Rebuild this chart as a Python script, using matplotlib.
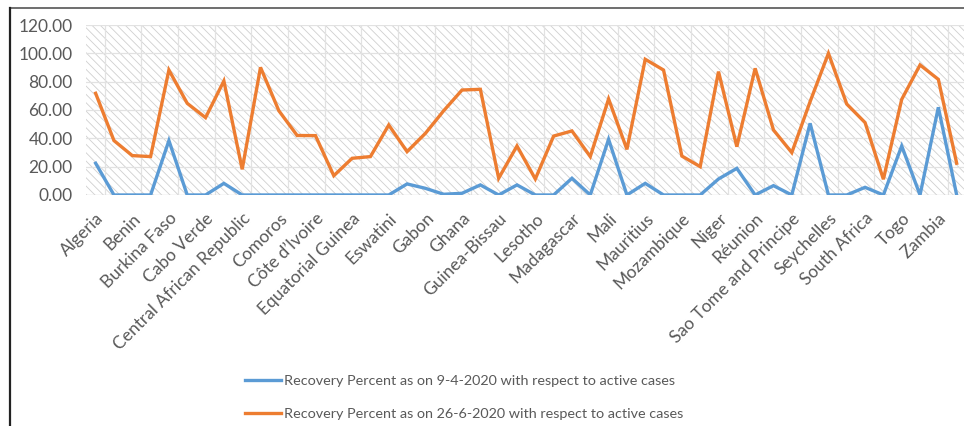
import matplotlib.pyplot as plt
from matplotlib.lines import Line2D
from matplotlib.patches import Rectangle
import numpy as np

countries = [
    "Algeria", "Angola", "Benin", "Botswana", "Burkina Faso", "Burundi",
    "Cabo Verde", "Cameroon", "Central African Republic", "Chad", "Comoros",
    "Congo", "Côte d’Ivoire", "Democratic Republic of the Congo",
    "Equatorial Guinea", "Eritrea", "Eswatini", "Ethiopia", "Gabon", "Gambia",
    "Ghana", "Guinea", "Guinea-Bissau", "Kenya", "Lesotho", "Liberia",
    "Madagascar", "Malawi", "Mali", "Mauritania", "Mauritius", "Mayotte",
    "Mozambique", "Namibia", "Niger", "Nigeria", "Réunion", "Rwanda",
    "Sao Tome and Principe", "Senegal", "Seychelles", "Sierra Leone",
    "South Africa", "South Sudan", "Togo", "Uganda", "Zambia", "Zimbabwe",
]

# recovery percent w.r.t. active cases, 9 April 2020
recovery_apr = [
    22.4, 0, 0, 0, 38.4, 0, 0, 8.2, 0, 0, 0, 0,
    0, 0, 0, 0, 0, 7.8, 4.7, 0.5, 1.2, 7.1, 0, 7.1,
    0, 0, 11.8, 0, 39.3, 0, 8.2, 0, 0, 0, 11.3, 18.8,
    0, 6.6, 0, 50.6, 0, 0, 5.4, 0, 34.6, 0, 61.9, 0,
]

# recovery percent w.r.t. active cases, 26 June 2020
recovery_jun = [
    71.8, 38.4, 27.8, 27.1, 88.2, 64.7, 54.6, 80.5, 18.1, 90.1, 59.5, 42.0,
    41.9, 13.6, 25.9, 27.1, 49.4, 30.6, 43.5, 59.5, 74.1, 74.6, 11.8, 34.6,
    11.3, 41.6, 45.2, 27.1, 67.8, 32.2, 95.8, 88.2, 27.5, 20.0, 87.1, 34.1,
    89.4, 45.9, 29.9, 65.9, 100.0, 64.2, 51.1, 11.1, 67.5, 91.8, 81.6, 22.4,
]

label_apr = "Recovery Percent as on 9-4-2020 with respect to active cases"
label_jun = "Recovery Percent as on 26-6-2020 with respect to active cases"

plt.rcParams['font.family'] = ['Lato', 'DejaVu Sans']
plt.rcParams['hatch.linewidth'] = 0.6

fig = plt.figure(figsize=(9.64, 4.26), dpi=100)
ax = fig.add_axes([0.0897, 0.5423, 0.9122, 0.399])

x = np.arange(len(countries))

# hatched plot area
ax.add_patch(Rectangle((0, 0), 1, 1, transform=ax.transAxes,
                       facecolor="white", edgecolor="#d0d0d0",
                       hatch="\\\\\\\\", linewidth=0, zorder=0))

ax.plot(x, recovery_apr, color="#5B9BD5", lw=2.4, zorder=3,
        solid_joinstyle="miter", label=label_apr)
ax.plot(x, recovery_jun, color="#ED7D31", lw=2.4, zorder=3,
        solid_joinstyle="miter", label=label_jun)

ax.set_xlim(-0.5, len(countries) - 0.5)
ax.set_ylim(0, 120)
ax.set_yticks(np.arange(0, 121, 20))
ax.set_yticklabels([f"{v:.2f}" for v in range(0, 121, 20)])

ax.set_xticks(x[::2])
ax.set_xticklabels(countries[::2], rotation=45, ha="right",
                   rotation_mode="anchor")
ax.tick_params(axis="both", length=0, colors="#595959")
ax.tick_params(axis="x", pad=11, labelsize=12.5)
ax.tick_params(axis="y", pad=10, labelsize=12.5)

# gridlines
for v in range(20, 121, 20):
    ax.axhline(v, color="#e2e2e2", lw=0.9, zorder=1)
for g in np.arange(0.5, len(countries), 2):
    ax.axvline(g, color="#e2e2e2", lw=0.9, zorder=1)
for s in ax.spines.values():
    s.set_visible(False)
ax.axhline(0, color="#d9d9d9", lw=1.0, zorder=2)

# outer frame (top and left edge)
fig.add_artist(Line2D([0.0104, 1.0], [0.981, 0.981], color="#555555",
                      lw=1.2, transform=fig.transFigure))
fig.add_artist(Line2D([0.0104, 0.0104], [0.0, 0.981], color="#222222",
                      lw=1.6, transform=fig.transFigure))

fig.legend(loc="center", bbox_to_anchor=(0.481, 0.067), frameon=False,
           fontsize=10.4, labelcolor="#595959", handlelength=2.5,
           handletextpad=0.2, labelspacing=1.4)

fig.savefig("out.png", dpi=100)
